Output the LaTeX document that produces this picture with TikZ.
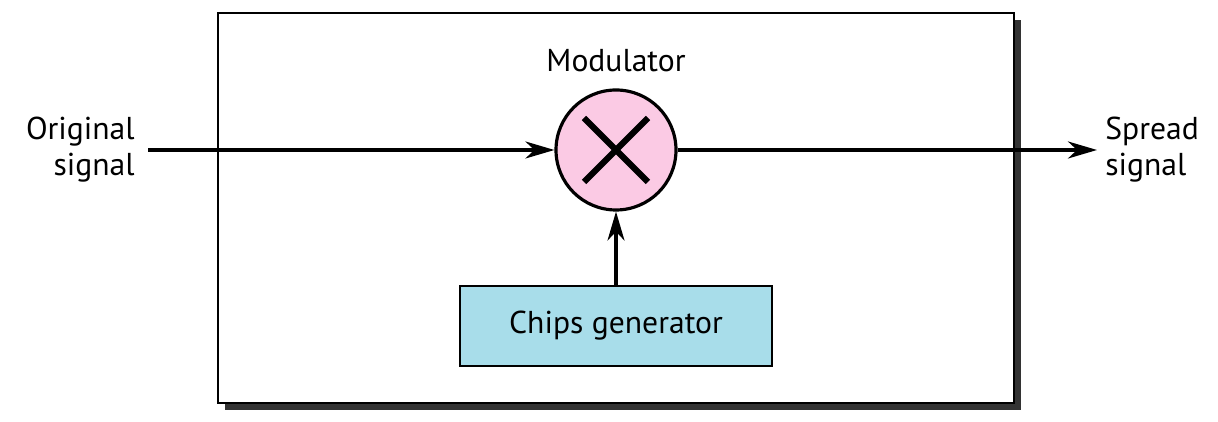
\documentclass[tikz,border=0pt]{standalone}
\usepackage{fontspec}
\setmainfont{PT Sans}
\usepackage{tikz}
\usetikzlibrary{arrows.meta,positioning}
\definecolor{modPink}{HTML}{FBCAE4}
\definecolor{genBlue}{HTML}{A8DDEA}
\definecolor{shadowGray}{HTML}{333333}

\begin{document}
\begin{tikzpicture}[
  font=\fontsize{18}{20.5}\selectfont,
  frame/.style={draw=black, line width=1.2pt, fill=white},
  mixer/.style={circle, draw=black, line width=1.8pt, fill=modPink,
                minimum size=2.4cm, inner sep=0pt},
  gen/.style={draw=black, line width=1.2pt, fill=genBlue,
              minimum width=6.24cm, minimum height=1.6cm, inner sep=0pt},
  lab/.style={inner sep=0pt, align=center},
  arr/.style={-{Stealth[length=5.8mm, width=3.4mm, inset=1.8mm]}, line width=1.8pt}
]
  \useasboundingbox (0,0) rectangle (24.36,8.44);
  % enclosing box with its shadow
  \fill[shadowGray] (4.50,0.24) rectangle (20.42,8.04);
  \draw[frame] (4.36,0.38) rectangle (20.28,8.18);

  \node[mixer] (mod) at (12.32,5.44) {};
  \draw[line width=3.6pt] (11.68,4.80) -- (12.96,6.08)
                          (11.68,6.08) -- (12.96,4.80);
  \node[lab] (modlab) at (12.32,7.22) {Modulator};
  \node[gen] (chips) at (12.32,1.92) {Chips generator};

  \node[lab, anchor=east, align=right] (orig) at (2.70,5.44) {Original\\signal};
  \node[lab, anchor=west, align=left] (spread) at (22.10,5.44) {Spread\\signal};

  \draw[arr] ([xshift=0.26cm]orig.east) -- (mod);
  \draw[arr] (mod) -- ([xshift=-0.16cm]spread.west);
  \draw[arr] (chips) -- (mod);
\end{tikzpicture}
\end{document}
